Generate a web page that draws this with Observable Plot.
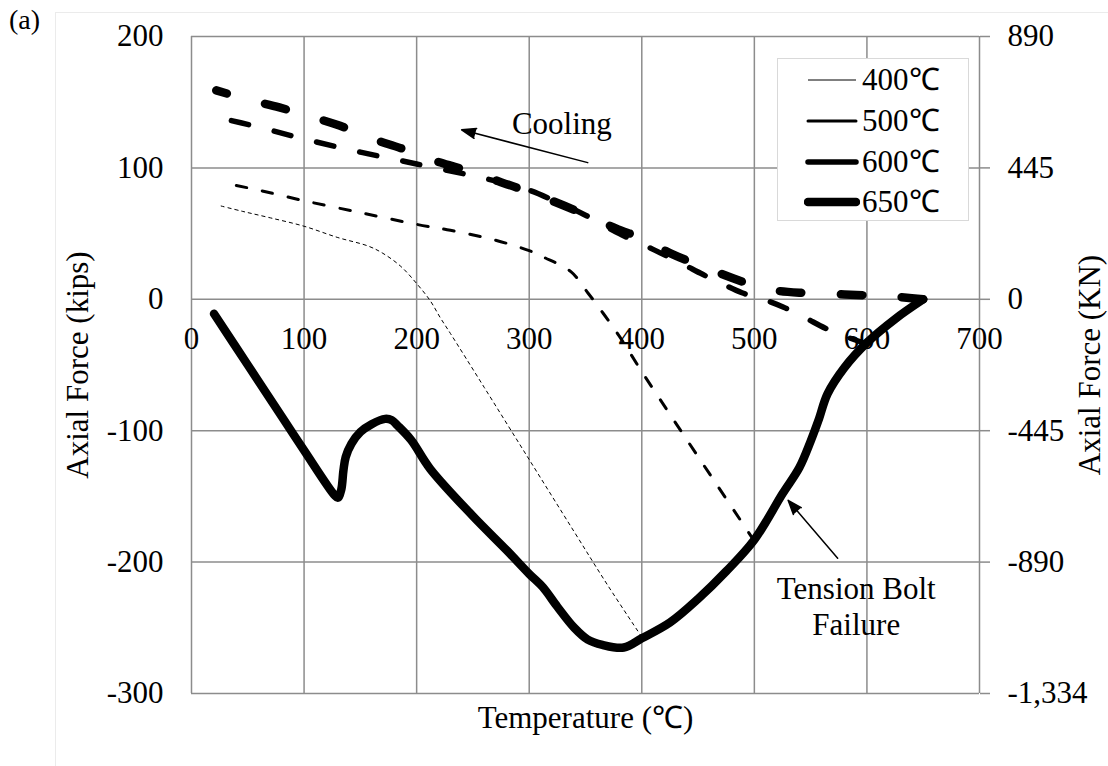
<!DOCTYPE html>
<html>
<head>
<meta charset="utf-8">
<script src="https://cdn.jsdelivr.net/npm/d3@7"></script>
<script src="https://cdn.jsdelivr.net/npm/@observablehq/plot@0.6"></script>
<style>
  body { margin: 0; background: #fff; }
  #wrap { position: relative; width: 1108px; height: 766px; overflow: hidden;
          font-family: "Liberation Serif", "Times New Roman", serif; color: #000; }
  #frame { position: absolute; left: 55px; top: 12px; width: 1100px; height: 800px;
           border: 1.5px solid #ebebeb; box-sizing: border-box; }
  #chart { position: absolute; left: 0; top: 0; }
  #legend { position: absolute; left: 777px; top: 58px; width: 192px; height: 163px;
            border: 1.5px solid #d9d9d9; background: #fff; box-sizing: border-box; }
  .lrow { position: absolute; left: 0; height: 40px; width: 190px; }
  .lrow svg { position: absolute; left: 26px; top: 0; }
  .lrow span { position: absolute; left: 84px; top: 0; font-size: 31px; line-height: 40px; }
</style>
</head>
<body>
<div id="wrap">
  <div id="frame"></div>
  <div id="chart"></div>
  <div id="tag" style="position:absolute;left:9px;top:4px;font-size:28px;line-height:32px;font-family:'Liberation Serif',serif;">(a)</div>
  <div id="legend"></div>
</div>
<script>
// ---------- data ----------
const xTicks = [0, 100, 200, 300, 400, 500, 600, 700];
const yTicks = [-300, -200, -100, 0, 100, 200];
const kNTickLabels = ["-1,334", "-890", "-445", "0", "445", "890"];

const seriesNames = ["400℃", "500℃", "600℃", "650℃"];
const seriesMaxTemp = [400, 500, 600, 650];

// heating branch (shared by all tests, solid)
const heatTemp  = [20, 50, 80, 100, 127, 130, 133, 135, 137, 142, 150, 160, 172, 178, 183, 195, 212, 250, 280, 300, 312, 325, 340, 352, 365, 384, 400, 425, 450, 475, 500, 525, 540, 550, 557, 565, 580, 600, 625, 650];
const heatForce = [-11, -50, -89, -115, -149, -151, -145, -130, -120, -110, -101, -95, -91, -92, -96, -107, -129, -165, -191, -209, -219, -234, -250, -259, -263, -265, -258, -246, -228, -207, -183, -148, -128, -108, -92, -72, -52, -33, -15, 0];

// cooling branches (dashed)
const cool400Temp  = [400, 370, 340, 300, 260, 230, 221, 212, 200, 186, 170, 157, 130, 100, 70, 45, 24];
const cool400Force = [-257, -218, -177, -122, -67, -26, -14, -1, 12, 25, 35, 40.5, 47, 55.6, 62, 67, 71.5];

const cool500Temp  = [500, 465, 430, 400, 380, 366, 352, 337, 313, 300, 270, 230, 200, 150, 100, 60, 32];
const cool500Force = [-184, -139, -94, -55, -28, -11, 5, 21, 32, 37, 45, 52.5, 57, 66, 75, 83, 88];

const cool600Temp  = [600, 580, 563, 545, 526, 508, 489, 471, 454, 436, 410, 380, 350, 330, 300, 275, 250, 200, 150, 100, 60, 20];
const cool600Force = [-34, -28, -22, -14, -6, 0, 5, 12, 19, 27, 38, 50, 64, 72, 83, 89, 94, 103, 112, 122, 131, 139];

const cool650Temp  = [650, 625, 600, 570, 540, 520, 505, 481, 454, 428, 401, 377, 348, 323, 292, 272, 241, 214, 186, 161, 132, 106, 78, 50, 22];
const cool650Force = [0, 2, 3, 4, 5, 6.5, 9, 16, 25, 34, 46, 54, 65, 74, 84, 90, 99, 106, 115, 122, 132, 139, 146, 152, 159];

// annotations
const coolingLabel = {x: 329, y: 135, text: "Cooling"};
const coolingArrow = {x1: 352, y1: 104, x2: 240, y2: 129};
const boltLabel = {x: 590.5, y: -233, text: "Tension Bolt\nFailure"};
const boltArrow = {x1: 574, y1: -197, x2: 530, y2: -153};

// ---------- styles ----------
const seriesStyle = {
  "400℃": {width: 1,   dash: "4,3",       cap: "butt"},
  "500℃": {width: 3,   dash: "10.5,16",   cap: "round"},
  "600℃": {width: 5.5, dash: "17.5,26.5", cap: "round"},
  "650℃": {width: 8.5, dash: "21.5,39.5", cap: "round"}
};
const gridColor = "#8c8c8c";

// ---------- build tables ----------
const heating = heatTemp.map((t, i) => ({t, f: heatForce[i]}));
const coolingSets = [
  [cool400Temp, cool400Force],
  [cool500Temp, cool500Force],
  [cool600Temp, cool600Force],
  [cool650Temp, cool650Force]
];

const lineMarks = [];
seriesNames.forEach((name, k) => {
  const s = seriesStyle[name];
  lineMarks.push(Plot.line(heating.filter(d => d.t <= seriesMaxTemp[k]), {
    x: "t", y: "f", stroke: "black", strokeWidth: s.width,
    strokeLinejoin: "round", strokeLinecap: "round", curve: "catmull-rom"
  }));
});
seriesNames.forEach((name, k) => {
  const s = seriesStyle[name];
  const [T, F] = coolingSets[k];
  const rows = T.map((t, i) => ({t, f: F[i]}));
  lineMarks.push(Plot.line(rows, {
    x: "t", y: "f", stroke: "black", strokeWidth: s.width,
    strokeDasharray: s.dash, strokeLinecap: s.cap, strokeLinejoin: "round",
    curve: "catmull-rom"
  }));
});

const chart = Plot.plot({
  width: 1108,
  height: 766,
  marginLeft: 191,
  marginRight: 129,
  marginTop: 36,
  marginBottom: 73,
  style: {fontFamily: "'Liberation Serif', 'Times New Roman', serif", fontSize: "31px",
          background: "transparent", color: "black", overflow: "visible"},
  x: {domain: [0, 700], axis: null},
  y: {domain: [-300, 200], axis: null},
  marks: [
    Plot.gridX(xTicks, {stroke: gridColor, strokeOpacity: 1, strokeWidth: 1.5}),
    Plot.gridY(yTicks, {stroke: gridColor, strokeOpacity: 1, strokeWidth: 1.5}),
    Plot.axisY(yTicks, {anchor: "left", tickSize: 0, tickPadding: 28, label: null,
                        tickFormat: d => String(d)}),
    Plot.axisY(yTicks, {anchor: "right", tickSize: 10, tickPadding: 18, label: null,
                        stroke: gridColor, strokeWidth: 1.5, strokeOpacity: 1,
                        tickFormat: d => kNTickLabels[yTicks.indexOf(d)]}),
    Plot.text(xTicks, {x: d => d, y: () => 0, text: d => String(d), dy: 40,
                       textAnchor: "middle", lineAnchor: "middle"}),
    Plot.text(["Axial Force (kips)"], {frameAnchor: "left", text: d => d, rotate: -90,
                                       dx: -113, textAnchor: "middle", lineAnchor: "middle"}),
    Plot.text(["Axial Force (KN)"], {frameAnchor: "right", text: d => d, rotate: -90,
                                     dx: 111, textAnchor: "middle", lineAnchor: "middle"}),
    Plot.text(["Temperature (℃)"], {frameAnchor: "bottom", text: d => d, dy: 25,
                                    textAnchor: "middle", lineAnchor: "middle"}),
    ...lineMarks,
    Plot.arrow([coolingArrow, boltArrow], {x1: "x1", y1: "y1", x2: "x2", y2: "y2",
      stroke: "black", fill: "black", strokeWidth: 1.5, headLength: 15, headAngle: 40}),
    Plot.text([coolingLabel, boltLabel], {x: "x", y: "y", text: "text",
      textAnchor: "middle", lineAnchor: "middle", lineHeight: 1.17})
  ]
});
document.getElementById("chart").appendChild(chart);

// ---------- legend ----------
const legend = document.getElementById("legend");
const rowCenters = [21, 62, 103, 143];
seriesNames.forEach((name, k) => {
  const s = seriesStyle[name];
  const row = document.createElement("div");
  row.className = "lrow";
  row.style.top = (rowCenters[k] - 20) + "px";
  row.innerHTML =
    `<svg width="56" height="40"><line x1="4" y1="20" x2="52" y2="20" stroke="black" ` +
    `stroke-width="${s.width}" stroke-linecap="${s.cap}"/></svg><span>${name}</span>`;
  legend.appendChild(row);
});
</script>
</body>
</html>
